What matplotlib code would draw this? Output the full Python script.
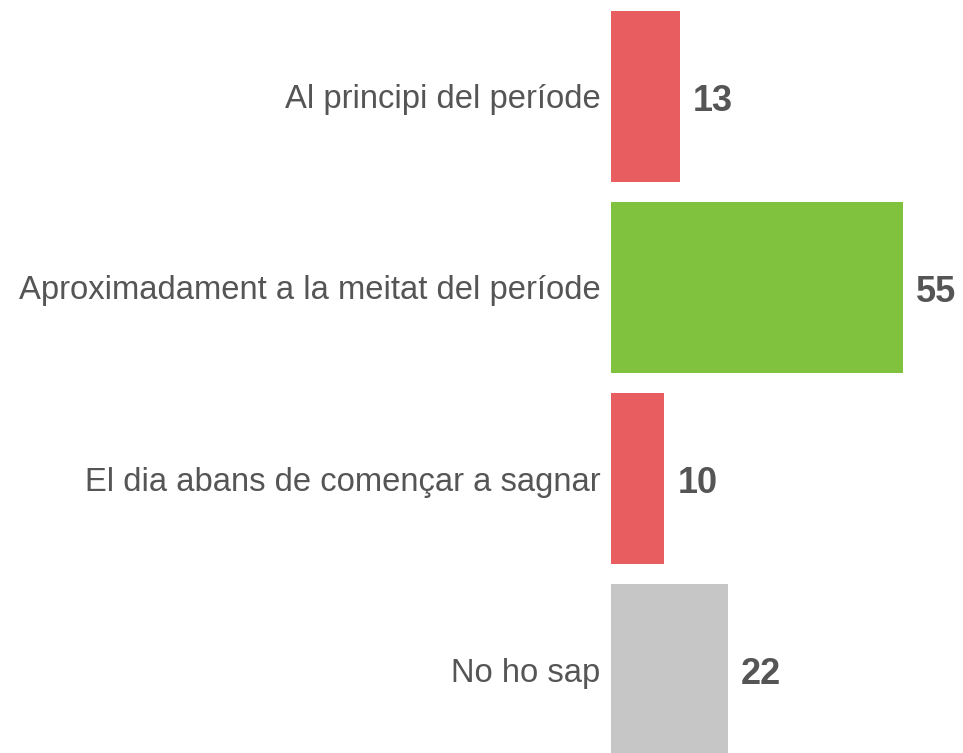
import matplotlib
matplotlib.use("Agg")
import matplotlib.pyplot as plt

categories = [
    "Al principi del període",
    "Aproximadament a la meitat del període",
    "El dia abans de començar a sagnar",
    "No ho sap",
]
values = [13, 55, 10, 22]
colors = ["#E85E60", "#80C23E", "#E85E60", "#C6C6C6"]

plt.rcParams['font.family'] = ['Liberation Sans', 'DejaVu Sans']
text_color = "#555555"

fig = plt.figure(figsize=(9.63, 7.53), dpi=100)
ax = fig.add_axes([611 / 963, 0, 352 / 963, 1])

pos = list(range(len(categories)))
ax.barh(pos, values, height=0.9, color=colors)
ax.set_xlim(0, 352 / 5.31)
ax.set_ylim(3.437, -0.505)

ax.set_yticks(pos)
ax.set_yticklabels(categories, fontsize=23.6, color=text_color)
ax.tick_params(axis='y', length=0, pad=7.5)
ax.set_xticks([])
for s in ax.spines.values():
    s.set_visible(False)

for p, v in zip(pos, values):
    ax.annotate(str(v), (v, p), xytext=(9.5, -3.5), textcoords='offset points',
                va='center', ha='left', fontsize=26, fontweight='bold',
                color=text_color)

fig.savefig("out.png", dpi=100)
